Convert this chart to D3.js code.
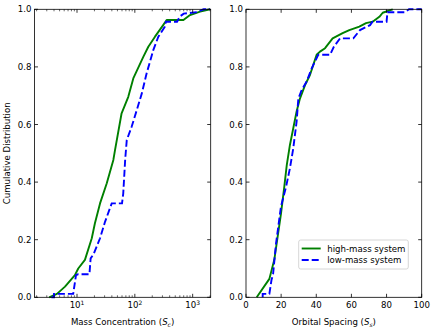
<!DOCTYPE html>
<html>
<head>
<meta charset="utf-8">
<script src="https://cdn.jsdelivr.net/npm/d3@7"></script>
<style>
  body { margin: 0; background: #fff; }
  text { font-family: "DejaVu Sans", sans-serif; font-size: 8.6px; fill: #000; }
</style>
</head>
<body>
<div class="chartsWrapper"></div>
<script>
// ---- data (ECDF vertices) ----
var massHighX = [3.3, 4.5, 6.2, 9.2, 10.5, 13.7, 18, 20.4, 25, 32.7, 42.5, 45.4, 59, 77, 94, 140, 171, 223, 311, 355, 692, 900, 1343, 2000]
var massHighY = [0, 0.012, 0.037, 0.077, 0.10, 0.13, 0.205, 0.257, 0.326, 0.396, 0.477, 0.511, 0.639, 0.696, 0.76, 0.835, 0.870, 0.905, 0.946, 0.963, 0.963, 0.98, 0.992, 1.0]

var massLowX = [3.6, 4.0, 4.0, 8.6, 9.6, 10.4, 16.4, 17.2, 19.4, 25, 30.5, 39.8, 60, 63, 68, 72.5, 88, 108, 132, 160, 209, 255, 331, 345, 537, 600, 700, 1170, 1550, 2000]
var massLowY = [0, 0, 0.012, 0.012, 0.077, 0.08, 0.08, 0.135, 0.15, 0.205, 0.262, 0.326, 0.326, 0.36, 0.477, 0.546, 0.592, 0.65, 0.708, 0.778, 0.859, 0.905, 0.94, 0.957, 0.957, 0.975, 0.985, 0.99, 1.0, 1.0]

var spaceHighX = [6.1, 13.3, 16.1, 18, 19.9, 21.8, 23.2, 25, 26.9, 28.8, 30.7, 33.6, 36.4, 38.3, 40.2, 42.1, 45, 49.3, 55, 58.8, 64.5, 68.3, 72.1, 75.9, 77.8, 83.5]
var spaceHighY = [0, 0.064, 0.13, 0.21, 0.29, 0.384, 0.459, 0.529, 0.587, 0.645, 0.69, 0.737, 0.772, 0.807, 0.842, 0.853, 0.865, 0.899, 0.917, 0.928, 0.94, 0.952, 0.957, 0.974, 0.988, 1.0]

var spaceLowX = [9.5, 9.5, 13.3, 14.5, 15.4, 17.1, 19.9, 22.8, 25, 26.9, 28.8, 29.8, 31.7, 34.5, 37.4, 41.1, 47.8, 50, 53.5, 61.1, 64.9, 70.6, 72, 80, 80.5, 90.5, 92.8, 100]
var spaceLowY = [0, 0.012, 0.012, 0.06, 0.08, 0.187, 0.315, 0.384, 0.448, 0.517, 0.61, 0.69, 0.72, 0.749, 0.795, 0.842, 0.842, 0.87, 0.899, 0.899, 0.928, 0.945, 0.957, 0.957, 0.99, 0.99, 1.0, 1.0]

var yTicks = [0, 0.2, 0.4, 0.6, 0.8, 1.0]
var spacingTicks = [0, 20, 40, 60, 80, 100]
var massTicks = [10, 100, 1000]
var legendLabels = ['high-mass system', 'low-mass system']

var W = 436, H = 334
var plotTop = 9.3, plotBottom = 297.3

var svg = d3.select('.chartsWrapper').append('svg')
            .attr('width', W).attr('height', H)

var y = d3.scaleLinear().domain([0, 1]).range([plotBottom, plotTop])

function zip(xs, ys) { return xs.map(function(v, i) { return [v, ys[i]] }) }

function drawPanel(x, high, low, opts) {
    var g = svg.append('g')
    var x0 = x.range()[0], x1 = x.range()[1]

    var line = d3.line().x(function(d) { return x(d[0]) }).y(function(d) { return y(d[1]) })

    g.append('path').datum(high).attr('d', line)
     .attr('fill', 'none').attr('stroke', '#008000').attr('stroke-width', 1.9)
     .attr('stroke-linejoin', 'round')
    g.append('path').datum(low).attr('d', line)
     .attr('fill', 'none').attr('stroke', '#0000ff').attr('stroke-width', 1.9)
     .attr('stroke-dasharray', '7,3')

    // y ticks both sides, pointing in
    yTicks.forEach(function(t) {
        g.append('line').attr('x1', x0).attr('x2', x0 + 3.5).attr('y1', y(t)).attr('y2', y(t)).attr('stroke', '#000').attr('stroke-width', 0.8)
        g.append('line').attr('x1', x1).attr('x2', x1 - 3.5).attr('y1', y(t)).attr('y2', y(t)).attr('stroke', '#000').attr('stroke-width', 0.8)
        g.append('text').attr('x', x0 - 3).attr('y', y(t) + 3).attr('text-anchor', 'end').text(d3.format('.1f')(t))
    })

    opts.major.forEach(function(t) {
        g.append('line').attr('x1', x(t)).attr('x2', x(t)).attr('y1', plotBottom).attr('y2', plotBottom - 3.5).attr('stroke', '#000').attr('stroke-width', 0.8)
        g.append('line').attr('x1', x(t)).attr('x2', x(t)).attr('y1', plotTop).attr('y2', plotTop + 3.5).attr('stroke', '#000').attr('stroke-width', 0.8)
        var lbl = g.append('text').attr('x', x(t)).attr('y', plotBottom + 10.5).attr('text-anchor', 'middle')
        if (opts.log) {
            lbl.append('tspan').text('10')
            lbl.append('tspan').attr('dy', -3).attr('font-size', '6px').text(Math.round(Math.log10(t)))
        } else {
            lbl.text(t)
        }
    })
    ;(opts.minor || []).forEach(function(t) {
        g.append('line').attr('x1', x(t)).attr('x2', x(t)).attr('y1', plotBottom).attr('y2', plotBottom - 2).attr('stroke', '#000').attr('stroke-width', 0.6)
        g.append('line').attr('x1', x(t)).attr('x2', x(t)).attr('y1', plotTop).attr('y2', plotTop + 2).attr('stroke', '#000').attr('stroke-width', 0.6)
    })

    g.append('rect').attr('x', x0).attr('y', plotTop).attr('width', x1 - x0).attr('height', plotBottom - plotTop)
     .attr('fill', 'none').attr('stroke', '#000').attr('stroke-width', 0.8)

    var xl = g.append('text').attr('x', (x0 + x1) / 2).attr('y', 325).attr('text-anchor', 'middle')
    xl.append('tspan').text(opts.label + ' (')
    xl.append('tspan').attr('font-style', 'italic').text('S')
    xl.append('tspan').attr('font-style', 'italic').attr('font-size', '6px').attr('dy', 1.5).text(opts.sub)
    xl.append('tspan').attr('dy', -1.5).text(')')
    return g
}

// left panel: mass concentration (log)
var xMass = d3.scaleLog().domain([1.84, 2050]).range([34.5, 210.7])
var minorMass = []
;[1, 10, 100, 1000].forEach(function(b) {
    for (var k = 2; k <= 9; k++) {
        var v = b * k
        if (v > xMass.domain()[0] && v < xMass.domain()[1]) minorMass.push(v)
    }
})
drawPanel(xMass, zip(massHighX, massHighY), zip(massLowX, massLowY),
    { major: massTicks, minor: minorMass, log: true, label: 'Mass Concentration', sub: 'c' })

// right panel: orbital spacing
var xSpace = d3.scaleLinear().domain([0, 100]).range([246, 421.7])
var right = drawPanel(xSpace, zip(spaceHighX, spaceHighY), zip(spaceLowX, spaceLowY),
    { major: spacingTicks, log: false, label: 'Orbital Spacing', sub: 's' })

svg.append('text').attr('transform', 'translate(10,' + ((plotTop + plotBottom) / 2) + ') rotate(-90)')
   .attr('text-anchor', 'middle').text('Cumulative Distribution')

// legend
var leg = right.append('g').attr('transform', 'translate(298.7,240)')
leg.append('rect').attr('width', 109.6).attr('height', 29).attr('rx', 2)
   .attr('fill', '#fff').attr('fill-opacity', 0.8).attr('stroke', '#cccccc').attr('stroke-width', 0.8)
var legColors = ['#008000', '#0000ff']
legendLabels.forEach(function(l, i) {
    var ly = 8.5 + i * 11.5
    leg.append('line').attr('x1', 3).attr('x2', 22).attr('y1', ly).attr('y2', ly)
       .attr('stroke', legColors[i]).attr('stroke-width', 1.9)
       .attr('stroke-dasharray', i ? '7,3' : null)
    leg.append('text').attr('x', 28.5).attr('y', ly + 3).text(l)
})
</script>
</body>
</html>
